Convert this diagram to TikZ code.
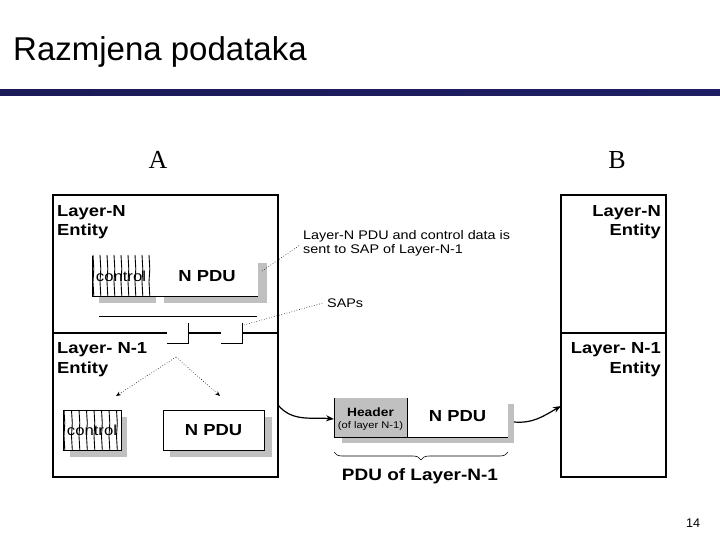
\documentclass[tikz,border=0pt]{standalone}
\usepackage{fontspec}
\setmainfont{Liberation Sans}
\newfontfamily\diagfont[FakeStretch=1.15]{Liberation Sans}
\newfontfamily\letterfont{Liberation Serif}
\usetikzlibrary{calc, arrows.meta, decorations.pathreplacing}

\definecolor{barDark}{RGB}{26,26,88}
\definecolor{barMid}{RGB}{52,52,168}
\definecolor{shadowGray}{RGB}{192,192,192}

\tikzset{
    entitybox/.style={line width=1.2pt},
    pdushadow/.style={fill=shadowGray},
    hatchline/.style={line width=0.9pt},
    layertxt/.style={font=\diagfont\bfseries\fontsize{16}{20}\selectfont, inner sep=0pt},
    pdutxt/.style={font=\diagfont\bfseries\fontsize{16}{20}\selectfont, inner sep=0pt},
    ctrltxt/.style={font=\diagfont\fontsize{14.5}{17}\selectfont, inner sep=0pt},
    notetxt/.style={font=\diagfont\fontsize{12.5}{14}\selectfont, inner sep=0pt},
    leader/.style={dotted, line width=0.6pt},
    sendarrow/.style={line width=1.2pt, -{Stealth[length=8pt,width=6pt]}}
}

\begin{document}
\begin{tikzpicture}[x=1pt, y=-1pt]
    \useasboundingbox (0,0) rectangle (720,540);

    % Title and the bar under it
    \node[anchor=base west, inner sep=0pt, font=\fontsize{33}{36}\selectfont] (title) at (13,61) {Razmjena podataka};
    \shade[left color=barDark, middle color=barMid, right color=barDark!85!barMid] (0,90) rectangle (720,96);

    % The two systems
    \node[font=\letterfont\fontsize{26}{30}\selectfont] (sysA) at (158,160) {A};
    \node[font=\letterfont\fontsize{26}{30}\selectfont] (sysB) at (617,160) {B};

    % Define the corners of the entity boxes
    \coordinate (A1) at (53,195);
    \coordinate (A2) at (278,477);
    \coordinate (B1) at (561,195);
    \coordinate (B2) at (666,477);

    \draw[entitybox] (A1) rectangle (A2);
    \draw[entitybox] (B1) rectangle (B2);
    \draw[entitybox] (B1 |- 0,333) -- (B2 |- 0,333);

    % Layer boundary of A with the two SAPs
    \draw[entitybox] (53,333) -- (167,333) (188,333) -- (221,333) (242,333) -- (278,333);
    \draw[line width=1pt] (167,343) -- (188,343) -- (188,323) (221,343) -- (242,343) -- (242,323);
    \draw[line width=0.8pt] (99,316) -- (257,316);

    % Layer names
    \node[layertxt, anchor=base west] (nA) at (57,216) {Layer-N};
    \node[layertxt, anchor=base west] (nAe) at (57,236) {Entity};
    \node[layertxt, anchor=base west] (n1A) at (57,353) {Layer- N-1};
    \node[layertxt, anchor=base west] (n1Ae) at (57,373) {Entity};
    \node[layertxt, anchor=base east] (nB) at (661,216) {Layer-N};
    \node[layertxt, anchor=base east] (nBe) at (661,236) {Entity};
    \node[layertxt, anchor=base east] (n1B) at (661,353) {Layer- N-1};
    \node[layertxt, anchor=base east] (n1Be) at (661,373) {Entity};

    % --- N PDU in Layer-N ---
    \fill[pdushadow] (99,263) rectangle (156,303);
    \fill[pdushadow] (164,263) rectangle (267,303);
    \fill[white] (92,257) rectangle (258,296);
    \foreach \x in {93,100,...,149}
        \draw[hatchline] (\x,255) -- ++(0.8,14) -- ++(-0.8,13) -- ++(0.8,14);
    \draw[line width=1pt] (92,256) -- (92,296) -- (258,296);
    \node[ctrltxt] (ctrlN) at (121,276) {control};
    \node[pdutxt] (pduN) at (207,276) {N PDU};

    % --- control and N PDU in Layer-N-1 ---
    \fill[pdushadow] (70,417) rectangle (127,457);
    \fill[white] (63,410) rectangle (121,450);
    \foreach \x in {64,71.5,...,118}
        \draw[hatchline] (\x,410) -- ++(0.8,13) -- ++(-0.8,13) -- ++(0.8,14);
    \draw[line width=1pt] (63,410) rectangle (121,450);
    \node[ctrltxt] (ctrlN1) at (92,430) {control};

    \fill[pdushadow] (170,417) rectangle (272,457);
    \draw[line width=1pt, fill=white] (163,410) rectangle (264,450);
    \node[pdutxt] (pduN1) at (213.5,430) {N PDU};

    % Split at the SAP
    \coordinate (split) at (176,357);
    \coordinate (toCtrl) at (116,396);
    \coordinate (toPdu) at (220,396);
    \draw[leader, -{Stealth[length=5pt,width=4pt]}] (split) -- (toCtrl);
    \draw[leader, -{Stealth[length=5pt,width=4pt]}] (split) -- (toPdu);

    % Notes
    \node[notetxt, anchor=base west] (noteA) at (303,239.5) {Layer-N PDU and control data is};
    \node[notetxt, anchor=base west] (noteB) at (303,253) {sent to SAP of Layer-N-1};
    \node[notetxt, anchor=base west] (saps) at (327,307) {SAPs};
    \coordinate (pduCorner) at (262,271);
    \coordinate (noteTip) at (300,245);
    \coordinate (sapTip) at (244,325);
    \draw[leader] (pduCorner) -- (noteTip);
    \draw[leader] (sapTip) -- ($(saps.west)+(-3,0)$);

    % --- PDU of Layer-N-1 on the way ---
    \fill[pdushadow] (342,404) rectangle (514,443);
    \fill[shadowGray] (334,398) rectangle (407,437);
    \fill[white] (407,398) rectangle (508,437);
    \draw[line width=1pt] (334,398) -- (334,437) -- (508,437) (407,398) -- (407,437);
    \node[font=\diagfont\bfseries\fontsize{12}{14}\selectfont, inner sep=0pt, anchor=base] (hdr) at (370.5,416) {Header};
    \node[font=\diagfont\fontsize{9.7}{12}\selectfont, inner sep=0pt, anchor=base] (hdrSub) at (370.5,428) {(of layer N-1)};
    \node[pdutxt, anchor=base] (pduHdr) at (457.5,421) {N PDU};

    \draw[decorate, decoration={brace, amplitude=8pt, mirror}, line width=0.6pt] (334,452) -- (508,452);
    \node[font=\diagfont\bfseries\fontsize{16.5}{20}\selectfont, inner sep=0pt, anchor=base] (pduName) at (420,480) {PDU of Layer-N-1};

    % Send arrows (angles are taken on the page, not in the flipped y)
    \coordinate (aOut) at (278,405);
    \coordinate (pduIn) at (334,419);
    \coordinate (pduOut) at (514,422);
    \coordinate (bIn) at (561,406);
    \draw[sendarrow] (aOut) to[out=-50, in=175] (pduIn);
    \draw[sendarrow] (pduOut) to[out=-5, in=-150] (bIn);

    % Page number
    \node[anchor=base, inner sep=0pt, font=\fontsize{12.6}{14}\selectfont] (page) at (693,527) {14};
\end{tikzpicture}
\end{document}
